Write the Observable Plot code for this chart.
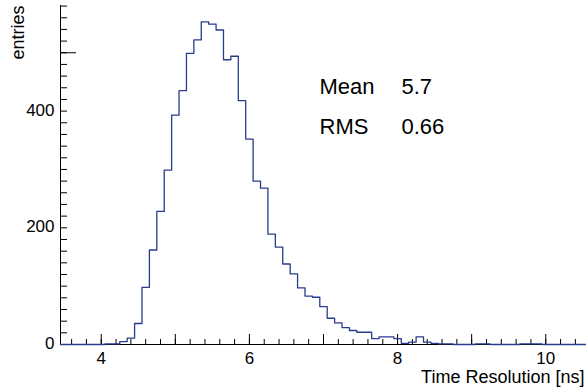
<!DOCTYPE html>
<html>
<head>
<meta charset="utf-8">
<script src="https://cdn.jsdelivr.net/npm/d3@7"></script>
<script src="https://cdn.jsdelivr.net/npm/@observablehq/plot@0.6"></script>
<style>
  html, body { margin: 0; padding: 0; background: #ffffff; }
  #chart { width: 586px; height: 391px; }
</style>
</head>
<body>
<div id="chart"></div>
<script>
// Histogram definition (ROOT style): 71 bins of width 0.1 from 3.45 to 10.55
const histMin = 3.45;
const binWidth = 0.1;
const counts = [
  0, 0, 0, 0, 0, 0, 1, 1, 5, 11,
  36, 98, 162, 228, 299, 393, 435, 499, 522, 553,
  549, 539, 488, 494, 418, 352, 280, 268, 189, 167,
  138, 121, 97, 83, 81, 65, 45, 37, 29, 24,
  21, 21, 10, 13, 13, 10, 2, 4, 13, 4,
  2, 1, 1, 0, 0, 0, 1, 1, 0, 0,
  0, 0, 1, 1, 1, 0, 0, 0, 0, 0,
  0
];
const xTickLabels = [4, 6, 8, 10];
const yTickLabels = [0, 200, 400];
const xTitle = "Time Resolution [ns]";
const yTitle = "entries";
const statNames = ["Mean", "RMS"];
const statValues = ["5.7", "0.66"];

const histMax = histMin + counts.length * binWidth;
const yMax = 581;

// step outline points at bin low edges, plus the final edge
const pts = counts.map((c, i) => ({x: histMin + i * binWidth, y: c}));
pts.push({x: histMax, y: counts[counts.length - 1]});

const xMinor = d3.range(0, 36).map(i => +(3.6 + i * 0.2).toFixed(2)).filter(v => v <= histMax);
const xMajor = d3.range(4, 11);
const yMinor = d3.range(0, yMax, 20);
const yMajor = [500];

const W = 586, H = 391;
const mL = 60, mR = 0, mT = 5, mB = 47;
const font = "'Liberation Sans', Arial, Helvetica, sans-serif";
const lineColor = "#283c8c";

const chart = Plot.plot({
  width: W,
  height: H,
  marginLeft: mL,
  marginRight: mR,
  marginTop: mT,
  marginBottom: mB,
  style: {fontFamily: font, fontSize: "17px", background: "#ffffff", color: "#000000"},
  x: {domain: [histMin, histMax], axis: null},
  y: {domain: [0, yMax], axis: null},
  marks: [
    // tick marks (drawn inward, ROOT style)
    Plot.ruleX(xMinor, {x: d => d, y1: 0, y2: 0, insetTop: -5, stroke: "#000", strokeWidth: 1}),
    Plot.ruleX(xMajor, {x: d => d, y1: 0, y2: 0, insetTop: -10, stroke: "#000", strokeWidth: 1}),
    Plot.ruleY(yMinor, {y: d => d, x1: histMin, x2: histMin, insetRight: -7, stroke: "#000", strokeWidth: 1}),
    Plot.ruleY(yMajor, {y: d => d, x1: histMin, x2: histMin, insetRight: -16, stroke: "#000", strokeWidth: 1}),
    // axis lines
    Plot.ruleX([histMin], {stroke: "#000", strokeWidth: 1}),
    Plot.ruleY([0], {stroke: "#000", strokeWidth: 1}),
    // tick labels
    Plot.axisX({ticks: xTickLabels, tickSize: 0, tickPadding: 7, label: null, tickFormat: d => String(d), fontSize: 17, fill: "#000"}),
    Plot.axisY({ticks: yTickLabels, tickSize: 0, tickPadding: 6, label: null, tickFormat: d => String(d), fontSize: 17, fill: "#000", dy: -1}),
    // histogram outline
    Plot.lineY(pts, {x: "x", y: "y", curve: "step-after", stroke: lineColor, strokeWidth: 1.3}),
    // axis titles
    Plot.text([xTitle], {frameAnchor: "bottom-right", textAnchor: "end", lineAnchor: "bottom", dx: -2, dy: 38, fontSize: 18, fill: "#000"}),
    Plot.text([yTitle], {frameAnchor: "top-left", textAnchor: "end", lineAnchor: "bottom", rotate: -90, dx: -37, dy: 0, fontSize: 18, fill: "#000"}),
    // stats box text
    Plot.text([statNames[0]], {frameAnchor: "top-left", textAnchor: "start", lineAnchor: "bottom", dx: 259, dy: 88, fontSize: 22, fill: "#000"}),
    Plot.text([statValues[0]], {frameAnchor: "top-left", textAnchor: "start", lineAnchor: "bottom", dx: 341, dy: 88, fontSize: 22, fill: "#000"}),
    Plot.text([statNames[1]], {frameAnchor: "top-left", textAnchor: "start", lineAnchor: "bottom", dx: 259, dy: 128, fontSize: 22, fill: "#000"}),
    Plot.text([statValues[1]], {frameAnchor: "top-left", textAnchor: "start", lineAnchor: "bottom", dx: 341, dy: 128, fontSize: 22, fill: "#000"})
  ]
});
document.getElementById("chart").appendChild(chart);
</script>
</body>
</html>
